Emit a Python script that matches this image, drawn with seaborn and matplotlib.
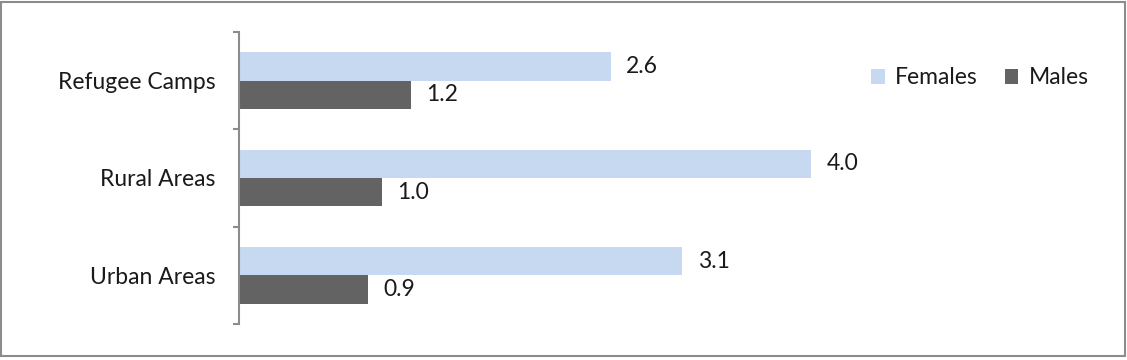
import matplotlib
matplotlib.use("Agg")
import matplotlib.pyplot as plt
import seaborn as sns
import pandas as pd
from matplotlib.patches import Rectangle

# data
areas = ["Refugee Camps", "Rural Areas", "Urban Areas"]
females = [2.6, 4.0, 3.1]
males = [1.2, 1.0, 0.9]
groups = ["Females", "Males"]
colors = ["#C6D9F0", "#636363"]

df = pd.DataFrame({
    "area": areas * 2,
    "value": females + males,
    "group": ["Females"] * len(areas) + ["Males"] * len(areas),
})

sns.set_style("white")
plt.rcParams["font.family"] = ["Lato", "DejaVu Sans"]
FS = 16.5

fig = plt.figure(figsize=(11.27, 3.6), dpi=100)
ax = fig.add_axes([239 / 1127, 36 / 360, (1100 - 239) / 1127, 292 / 360])

sns.barplot(data=df, y="area", x="value", hue="group", hue_order=groups,
            order=areas, palette=colors, width=0.58, orient="h",
            saturation=1, linewidth=0, ax=ax)

for c in ax.containers:
    ax.bar_label(c, fmt="%.1f", padding=11, fontsize=FS, color="#1a1a1a")

ax.set_xlim(0, 6.02)
ax.set_ylim(2.5, -0.5)
ax.set_xlabel("")
ax.set_ylabel("")
ax.set_xticks([])

# spines
for s in ["top", "right", "bottom"]:
    ax.spines[s].set_visible(False)
ax.spines["left"].set_color("#8c8c8c")
ax.spines["left"].set_linewidth(1.5)

# category labels, tick marks on boundaries
ax.tick_params(axis="y", which="major", length=0, pad=17, labelsize=FS,
               labelcolor="#1a1a1a")
ax.set_yticks([-0.5, 0.5, 1.5, 2.5], minor=True)
ax.tick_params(axis="y", which="minor", length=4.5, width=1.5,
               color="#8c8c8c", left=True)

leg = ax.legend(loc="center", bbox_to_anchor=((980 - 239) / (1100 - 239), 1 - (78 - 32) / 292),
                ncol=2, frameon=False, fontsize=FS, handlelength=0.58,
                handleheight=0.58, handletextpad=0.45, columnspacing=1.2)
for t in leg.get_texts():
    t.set_color("#1a1a1a")

# outer border
fig.patches.append(Rectangle((1 / 1127, 4 / 360), 1124 / 1127, 354 / 360,
                             transform=fig.transFigure, fill=False,
                             edgecolor="#8c8c8c", linewidth=1.5))

fig.savefig("out.png", dpi=100)
